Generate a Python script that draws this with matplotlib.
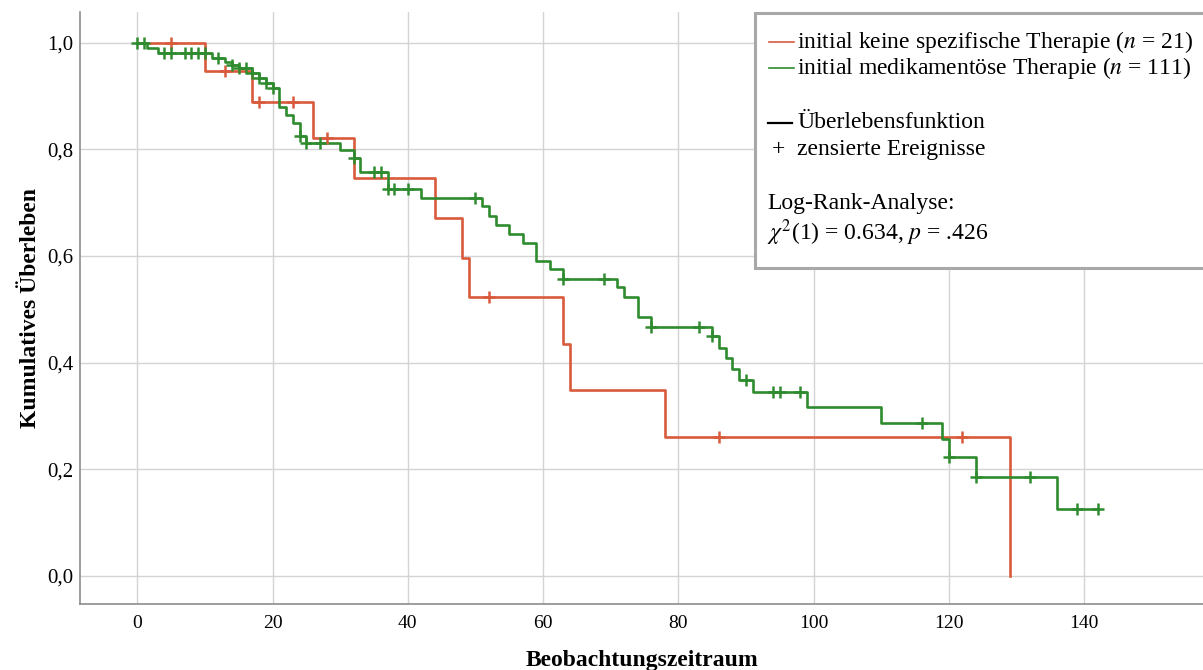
import numpy as np
import matplotlib
matplotlib.use("Agg")
import matplotlib.pyplot as plt
from matplotlib.patches import Rectangle
from matplotlib.lines import Line2D

plt.rcParams["font.family"] = ["Liberation Serif", "DejaVu Serif"]
plt.rcParams["mathtext.fontset"] = "stix"

# Kaplan-Meier steps (time, survival after step)
red_t = [0, 10, 17, 26, 32, 44, 48, 49, 63, 64, 78, 129]
red_s = [1.0, 0.947, 0.889, 0.822, 0.747, 0.672, 0.597, 0.523, 0.435, 0.348, 0.261, 0.0]
red_cens = [5, 13, 18, 23, 28, 52, 86, 122]

green_t = [0, 1.5, 3, 11, 13, 14, 15, 17, 18, 19, 20, 21, 22, 23, 24, 25, 30, 32, 33,
           37, 42, 51, 52, 53, 55, 57, 59, 61, 63, 71, 72, 74, 76, 85, 86, 87, 88, 89,
           91, 99, 110, 119, 120, 124, 136]
green_s = [1.0, 0.991, 0.981, 0.971, 0.964, 0.958, 0.952, 0.943, 0.933, 0.924, 0.915,
           0.880, 0.865, 0.850, 0.825, 0.811, 0.798, 0.783, 0.758, 0.725, 0.709, 0.693,
           0.675, 0.658, 0.641, 0.624, 0.590, 0.575, 0.557, 0.542, 0.523, 0.486, 0.467,
           0.449, 0.428, 0.409, 0.388, 0.368, 0.345, 0.317, 0.287, 0.257, 0.223, 0.186,
           0.125]
green_end = 142
green_cens = [0, 1, 4, 5, 7, 8, 9, 10, 12, 14, 15, 16, 17, 18, 19, 20, 24, 25, 27, 32,
              35, 36, 37, 38, 40, 50, 63, 69, 76, 83, 85, 90, 94, 95, 98, 116, 120, 124,
              132, 139, 142]

x_ticks = [0, 20, 40, 60, 80, 100, 120, 140]
y_ticks = [0.0, 0.2, 0.4, 0.6, 0.8, 1.0]
y_ticklabels = ["0,0", "0,2", "0,4", "0,6", "0,8", "1,0"]

RED = "#d95a3c"
GREEN = "#2e8b2e"
W, H = 1203, 670


def level_at(times, surv, t):
    i = np.searchsorted(times, t, side="right") - 1
    return np.asarray(surv)[i]


fig = plt.figure(figsize=(W / 100, H / 100), dpi=100)
ax = fig.add_axes([80 / W, 1 - 604 / H, 1 - 80 / W, (604 - 12) / H])
ax.set_xlim(-8.48, 157.6)
ax.set_ylim(-0.053, 1.0576)

ax.grid(True, color="#d4d4d4", lw=1.0)
ax.set_axisbelow(True)
for side in ["top", "right"]:
    ax.spines[side].set_visible(False)
for side in ["left", "bottom"]:
    ax.spines[side].set_color("#8c8c8c")
    ax.spines[side].set_linewidth(1.2)
ax.tick_params(length=0)
ax.tick_params(axis="x", labelsize=14, pad=8)
ax.tick_params(axis="y", labelsize=15, pad=5)
ax.set_xticks(x_ticks)
ax.set_yticks(y_ticks)
ax.set_yticklabels(y_ticklabels)

# red curve
ax.step(red_t, red_s, where="post", color=RED, lw=1.9, zorder=3)
ax.plot(red_cens, [level_at(red_t, red_s, t) for t in red_cens], ls="none",
        marker="+", ms=8, mew=1.8, color=RED, zorder=4)

# green curve
gt = green_t + [green_end]
gs = green_s + [green_s[-1]]
ax.step(gt, gs, where="post", color=GREEN, lw=1.9, zorder=3)
ax.plot(green_cens, [level_at(green_t, green_s, t) for t in green_cens], ls="none",
        marker="+", ms=8, mew=1.8, color=GREEN, zorder=4)

ax.set_xlabel("Beobachtungszeitraum", fontsize=17, fontweight="bold", labelpad=13)
ax.set_ylabel("Kumulatives Überleben", fontsize=17, fontweight="bold", labelpad=4)

# legend box
fx = lambda px: px / W
fy = lambda py: 1 - py / H
fig.add_artist(Rectangle((fx(755), fy(268)), fx(470), 255 / H, transform=fig.transFigure,
                         facecolor="white", edgecolor="#a8a8a8", lw=2.2, zorder=10))
fs = 17
fig.add_artist(Line2D([fx(769), fx(794)], [fy(42), fy(42)], color=RED, lw=1.2, zorder=11))
fig.add_artist(Line2D([fx(769), fx(794)], [fy(68), fy(68)], color=GREEN, lw=1.2, zorder=11))
fig.add_artist(Line2D([fx(768), fx(792)], [fy(123), fy(123)], color="black", lw=1.6,
                      zorder=11))
fig.text(fx(797), fy(42), "initial keine spezifische Therapie ($n$ = 21)", fontsize=fs,
         va="center", zorder=12)
fig.text(fx(797), fy(68), "initial medikamentöse Therapie ($n$ = 111)", fontsize=fs,
         va="center", zorder=12)
fig.text(fx(797), fy(123), "Überlebensfunktion", fontsize=fs, va="center", zorder=12)
fig.text(fx(772), fy(150), "+", fontsize=fs, va="center", zorder=12)
fig.text(fx(797), fy(150), "zensierte Ereignisse", fontsize=fs, va="center", zorder=12)
fig.text(fx(767), fy(204), "Log-Rank-Analyse:", fontsize=fs, va="center", zorder=12)
fig.text(fx(767), fy(233), r"$\chi^2$(1) = 0.634, $p$ = .426", fontsize=fs, va="center",
         zorder=12)

fig.savefig("out.png", dpi=100, facecolor="white")
